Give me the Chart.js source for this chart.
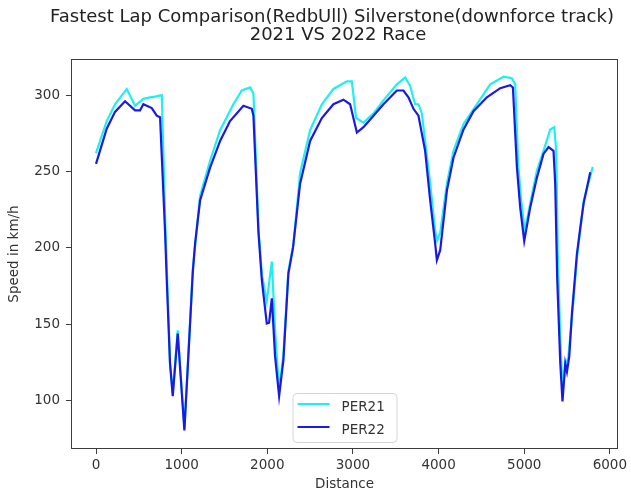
<!DOCTYPE html>
<html>
<head>
<meta charset="utf-8">
<script src="https://cdn.jsdelivr.net/npm/chart.js@4.4.1/dist/chart.umd.min.js"></script>
<style>
    html, body { margin: 0; padding: 0; background: #fff; }
    #wrap { position: relative; width: 631px; height: 500px; }
</style>
</head>
<body>
<div id="wrap"><canvas id="chart"></canvas></div>
<script>
// values
const distance21 = [0, 125, 222, 359, 456, 553, 631, 690, 768, 812, 864, 896, 954, 1032, 1078, 1130,
    1215, 1332, 1449, 1604, 1702, 1799, 1838, 1898, 1939, 1994, 2053, 2091, 2138, 2188, 2246, 2305,
    2383, 2500, 2637, 2772, 2929, 2987, 3037, 3123, 3240, 3356, 3513, 3610, 3668, 3726, 3765, 3805,
    3902, 3960, 3984, 4019, 4097, 4174, 4291, 4448, 4603, 4759, 4856, 4895, 4930, 4965, 5006, 5070,
    5148, 5225, 5304, 5350, 5374, 5391, 5421, 5450, 5479, 5514, 5557, 5619, 5695, 5800];
const speed21 = [262, 283, 294, 304, 293, 297.5, 298.5, 299, 300, 211, 125, 105, 146, 82, 130, 186,
    234, 257, 277, 294, 303, 305, 301, 211, 182, 165, 191, 146, 107, 130, 185, 202,
    249, 277, 294, 304, 309, 309, 285, 282, 288, 296.5, 307, 311.5, 306, 294, 294, 288,
    242, 211, 205, 210, 242, 263.5, 281, 294, 307, 312, 311, 307, 254, 231, 211, 229,
    250.5, 263.5, 277.5, 279, 263.5, 198, 140, 106, 123.5, 128, 154, 195, 231, 253];

const distance22 = [0, 125, 222, 339, 456, 514, 553, 651, 709, 748, 806, 826, 864, 896, 954, 1032,
    1078, 1130, 1157, 1215, 1332, 1449, 1565, 1721, 1819, 1838, 1896, 1936, 1994, 2021, 2053, 2091,
    2138, 2188, 2246, 2300, 2383, 2500, 2637, 2772, 2889, 2967, 3046, 3123, 3240, 3356, 3513, 3590,
    3648, 3707, 3765, 3843, 3902, 3960, 3980, 4019, 4097, 4174, 4291, 4408, 4564, 4720, 4836, 4868,
    4915, 4953, 5000, 5070, 5148, 5225, 5284, 5342, 5362, 5385, 5421, 5447, 5479, 5499, 5526, 5557,
    5615, 5654, 5693, 5771];
const speed22 = [255, 278, 289, 296, 290, 290, 294, 291.5, 286.5, 285.5, 211, 179, 124.5, 103, 144, 80.5,
    129, 184, 203, 231, 252.5, 270, 283, 293, 291, 286.5, 211, 179, 150.5, 151, 167, 129,
    103, 126.5, 183, 200, 242, 270, 285, 294, 297, 294, 275.5, 279, 286.5, 294, 303, 303,
    298.5, 291, 286.5, 263.5, 231, 203, 192, 198.5, 237.5, 259, 277.5, 289.5, 298.5, 304.5, 306.5, 305,
    252.5, 226.5, 204.5, 226.5, 246, 261.5, 266, 263.5, 242, 180, 124.5, 99.5, 124.5, 119, 129, 157,
    196, 213, 229, 249.5];

const xTicks = [0, 1000, 2000, 3000, 4000, 5000, 6000];
const yTicks = [100, 150, 200, 250, 300];

const seriesNames = ['PER21', 'PER22'];
const seriesColors = ['#1ef0f0', '#1a1ae0'];

const FONT = 'DejaVu Sans';
const TEXT = '#333333';

function toPoints(xs, ys) {
    return xs.map((x, i) => ({ x: x, y: ys[i] }));
}

// frame around the plot + two-line title + legend box (matplotlib look)
const decorations = {
    id: 'decorations',
    afterDraw(chart) {
        const ctx = chart.ctx;
        const area = chart.chartArea;
        ctx.save();

        ctx.strokeStyle = '#3c3c3c';
        ctx.lineWidth = 1;
        ctx.strokeRect(area.left + 0.5, area.top + 0.5, area.right - area.left - 1, area.bottom - area.top - 1);

        ctx.fillStyle = '#222';
        ctx.font = '18px "' + FONT + '"';
        ctx.textAlign = 'center';
        ctx.textBaseline = 'alphabetic';
        ctx.fillText('Fastest Lap Comparison(RedbUll) Silverstone(downforce track)', 332, 22);
        ctx.fillText('2021 VS 2022 Race', 338, 39.5);

        const cx = (area.left + area.right) / 2;
        const boxW = 104, boxH = 49;
        const bx = cx - boxW / 2, by = area.bottom - 7 - boxH;
        ctx.beginPath();
        ctx.roundRect(bx + 0.5, by + 0.5, boxW, boxH, 4);
        ctx.fillStyle = 'rgba(255,255,255,0.8)';
        ctx.fill();
        ctx.strokeStyle = '#d4d4d4';
        ctx.stroke();

        ctx.font = '13.5px "' + FONT + '"';
        ctx.textAlign = 'left';
        ctx.lineCap = 'butt';
        seriesNames.forEach((name, i) => {
            const ly = by + 11 + i * 23;
            ctx.strokeStyle = seriesColors[i];
            ctx.lineWidth = 2.2;
            ctx.beginPath();
            ctx.moveTo(bx + 5, ly);
            ctx.lineTo(bx + 37, ly);
            ctx.stroke();
            ctx.fillStyle = TEXT;
            ctx.fillText(name, bx + 49, ly + 7);
        });
        ctx.restore();
    }
};

new Chart(document.getElementById('chart'), {
    type: 'line',
    data: {
        datasets: [
            {
                label: seriesNames[0],
                data: toPoints(distance21, speed21),
                borderColor: seriesColors[0],
                borderWidth: 2.2,
                pointRadius: 0,
                tension: 0,
                order: 1
            },
            {
                label: seriesNames[1],
                data: toPoints(distance22, speed22),
                borderColor: seriesColors[1],
                borderWidth: 2.2,
                pointRadius: 0,
                tension: 0,
                order: 0
            }
        ]
    },
    options: {
        responsive: true,
        maintainAspectRatio: false,
        animation: false,
        layout: { padding: { top: 59, left: 4, right: 13, bottom: 4 } },
        plugins: {
            legend: { display: false },
            tooltip: { enabled: false },
            title: { display: false }
        },
        scales: {
            x: {
                type: 'linear',
                min: -292,
                max: 6095,
                afterBuildTicks(scale) {
                    scale.ticks = xTicks.map((v) => ({ value: v }));
                },
                afterFit(scale) {
                    scale.height = 47;
                },
                grid: { drawOnChartArea: false, tickLength: 5, color: '#3c3c3c' },
                border: { display: false },
                ticks: {
                    padding: 3,
                    color: TEXT,
                    maxRotation: 0,
                    font: { family: FONT, size: 13.5 },
                    callback: (value) => String(value)
                },
                title: {
                    display: true,
                    text: 'Distance',
                    color: TEXT,
                    padding: { top: 0, bottom: 3 },
                    font: { family: FONT, size: 13.5 }
                }
            },
            y: {
                min: 68.4,
                max: 323.6,
                afterBuildTicks(scale) {
                    scale.ticks = yTicks.map((v) => ({ value: v }));
                },
                afterFit(scale) {
                    scale.width = 67;
                },
                grid: { drawOnChartArea: false, tickLength: 5, color: '#3c3c3c' },
                border: { display: false },
                ticks: {
                    padding: 6,
                    color: TEXT,
                    font: { family: FONT, size: 13.5 },
                    callback: (value) => String(value)
                },
                title: {
                    display: true,
                    text: 'Speed in km/h',
                    color: TEXT,
                    padding: { top: 2, bottom: 0 },
                    font: { family: FONT, size: 13.5 }
                }
            }
        }
    },
    plugins: [decorations]
});
</script>
</body>
</html>
